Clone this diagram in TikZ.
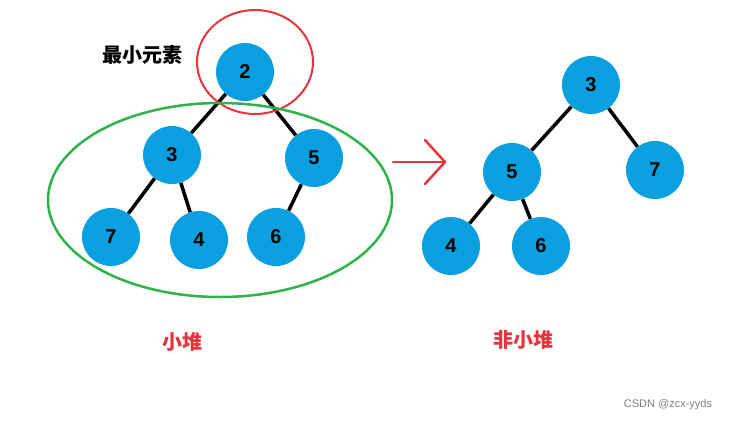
\documentclass[tikz,border=0pt]{standalone}
\usepackage{fontspec}
\setmainfont{Liberation Sans}
\newfontfamily\cjk{Noto Sans CJK SC}
\definecolor{nodeblue}{HTML}{0AA0E0}
\definecolor{myred}{HTML}{E8343C}
\definecolor{mygreen}{HTML}{2DB34A}
\begin{document}
\begin{tikzpicture}[x=1pt,y=-1pt,
  tn/.style={circle,fill=nodeblue,minimum size=58pt,inner sep=0pt,font=\fontsize{20}{20}\selectfont\bfseries},
  ed/.style={line width=3.5pt,black},
  lab/.style={font=\cjk\bfseries\fontsize{20}{20}\selectfont}]
\useasboundingbox[fill=white] (0,0) rectangle (734,421);
\node[tn] (a2) at (245,72) {2};
\node[tn] (a3) at (172,155) {3};
\node[tn] (a5) at (314,158) {5};
\node[tn] (a7) at (111,237) {7};
\node[tn] (a4) at (199,240) {4};
\node[tn] (a6) at (276,237) {6};
\draw[ed] (a2) -- (a3); \draw[ed] (a2) -- (a5);
\draw[ed] (a3) -- (a7); \draw[ed] (a3) -- (a4); \draw[ed] (a5) -- (a6);
\node[tn] (b3) at (591,85) {3};
\node[tn] (b5) at (512,172) {5};
\node[tn] (b7) at (655,170) {7};
\node[tn] (b4) at (451,246) {4};
\node[tn] (b6) at (541,246) {6};
\draw[ed] (b3) -- (b5); \draw[ed] (b3) -- (b7);
\draw[ed] (b5) -- (b4); \draw[ed] (b5) -- (b6);
\node[lab] (min) at (142,55) {最小元素};
\node[lab,text=myred] (t1) at (182,342) {小堆};
\node[lab,text=myred] (t2) at (523,340) {非小堆};
\node[text=gray,font=\fontsize{11}{11}\selectfont] (cs) at (668,405) {CSDN @zcx-yyds};
\draw[myred,line width=2pt] (255,62) ellipse [x radius=58, y radius=52];
\draw[mygreen,line width=2.5pt] (220,200) ellipse [x radius=172, y radius=97];
\coordinate (ar1) at (393,162); \coordinate (ar2) at (445,162);
\draw[myred,line width=2.5pt,line cap=round,line join=round] (ar1) -- (ar2);
\draw[myred,line width=2.5pt,line cap=round,line join=round] (425,140) -- (ar2) -- (425,184);
\end{tikzpicture}
\end{document}
